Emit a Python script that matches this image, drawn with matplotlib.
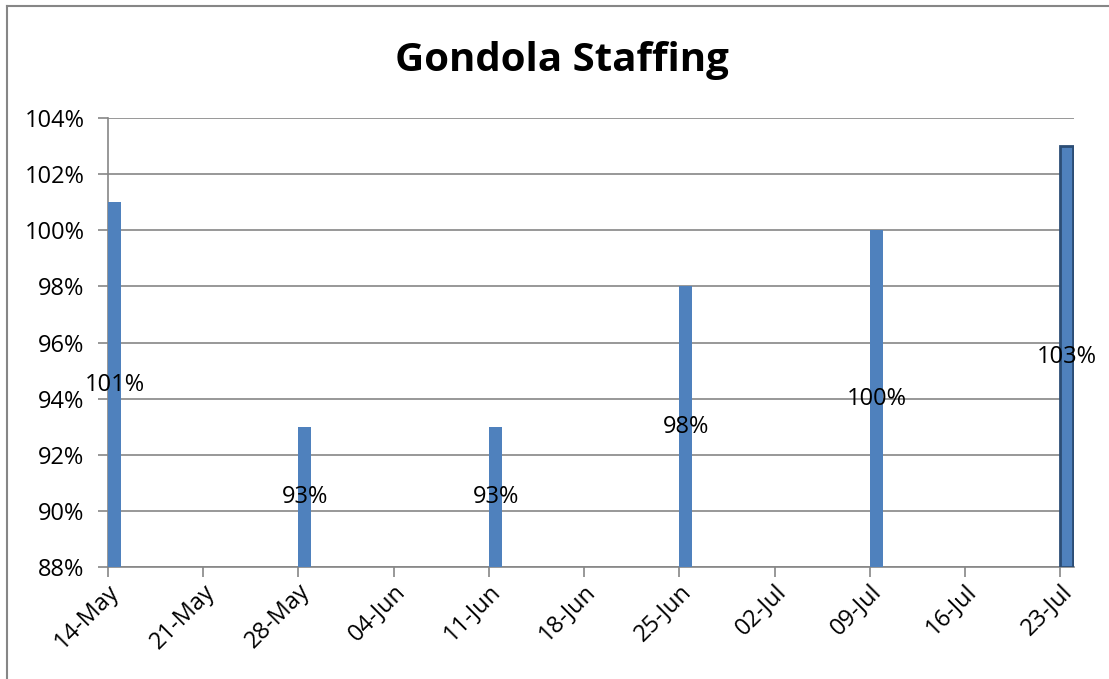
import datetime as dt
import matplotlib
matplotlib.use('Agg')
import matplotlib.pyplot as plt
import matplotlib.dates as mdates
import matplotlib.transforms as mtrans
from matplotlib.lines import Line2D
from matplotlib.ticker import FuncFormatter

dates = ['2013-05-14', '2013-05-28', '2013-06-11', '2013-06-25', '2013-07-09', '2013-07-23']
staffing = [101, 93, 93, 98, 100, 103]
tick_dates = ['2013-05-14', '2013-05-21', '2013-05-28', '2013-06-04', '2013-06-11', '2013-06-18',
              '2013-06-25', '2013-07-02', '2013-07-09', '2013-07-16', '2013-07-23']

x = [dt.datetime.strptime(d, '%Y-%m-%d') for d in dates]
ticks = [dt.datetime.strptime(d, '%Y-%m-%d') for d in tick_dates]

plt.rcParams['font.family'] = ['Open Sans', 'DejaVu Sans']
grey = '#868686'
blue = '#4F81BD'

fig = plt.figure(figsize=(11.09, 6.79), dpi=100)
ax = fig.add_axes([108 / 1109, 1 - 567 / 679, (1074 - 108) / 1109, (567 - 118) / 679])

base = 88
bars = ax.bar(x, [v - base for v in staffing], bottom=base, width=0.95, align='edge',
              color=blue, zorder=3)
bars[-1].set_edgecolor('#2C4D75')
bars[-1].set_linewidth(2)

for xi, v in zip(x, staffing):
    ax.text(mdates.date2num(xi) + 0.5, (base + v) / 2, f'{v}%', ha='center', va='center',
            fontsize=17, zorder=4)

ax.set_ylim(88, 104)
ax.set_yticks(range(88, 105, 2))
ax.yaxis.set_major_formatter(FuncFormatter(lambda v, p: f'{int(v)}%'))
ax.set_xlim(mdates.date2num(ticks[0]), mdates.date2num(ticks[-1]) + 1)
ax.set_xticks(ticks)
ax.set_xticklabels([])

# rotated date labels drawn by hand so they can sit a bit lower/right like Excel
shift = mtrans.ScaledTranslation(8 / 100, -21 / 100, fig.dpi_scale_trans)
for t in ticks:
    ax.text(mdates.date2num(t), 0, t.strftime('%d-%b'), transform=ax.get_xaxis_transform() + shift,
            rotation=45, ha='right', va='center', rotation_mode='anchor', fontsize=17)

ax.grid(axis='y', color=grey, linewidth=1.2, zorder=0)
for s in ['top', 'right']:
    ax.spines[s].set_visible(False)
for s in ['left', 'bottom']:
    ax.spines[s].set_color(grey)
    ax.spines[s].set_linewidth(1.2)
ax.tick_params(axis='both', colors=grey, labelcolor='black', labelsize=17, length=7, width=1.2)
ax.tick_params(axis='y', pad=10)

fig.text(562 / 1109, 1 - 60 / 679, 'Gondola Staffing', ha='center', va='center',
         fontsize=29, fontweight='bold')

fig.lines.append(Line2D([7 / 1109, 7 / 1109], [0, 1 - 6 / 679], transform=fig.transFigure,
                        color=grey, linewidth=1.5))
fig.lines.append(Line2D([7 / 1109, 1], [1 - 6 / 679, 1 - 6 / 679], transform=fig.transFigure,
                        color=grey, linewidth=1.5))

fig.savefig('out.png', dpi=100)
